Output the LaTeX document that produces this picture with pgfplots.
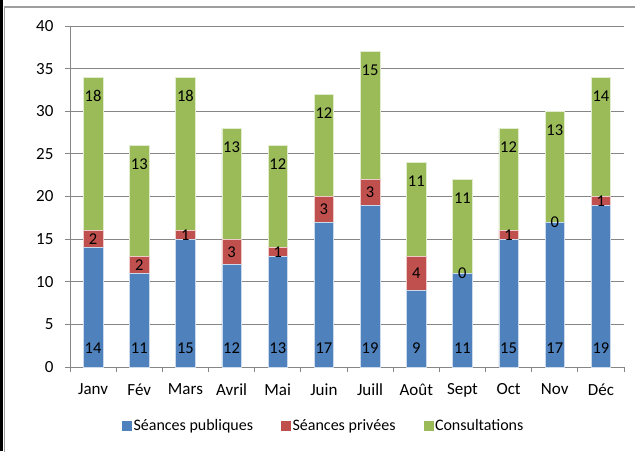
\documentclass[border=0pt]{standalone}
\usepackage{fontspec}
\setmainfont{Carlito}
\usepackage{pgfplots}
\pgfplotsset{compat=1.18}
\definecolor{cblue}{HTML}{4F81BD}
\definecolor{cred}{HTML}{C0504D}
\definecolor{cgreen}{HTML}{9BBB59}
\definecolor{cgrid}{HTML}{868686}
\begin{document}
\begin{tikzpicture}
\useasboundingbox (0pt,0pt) rectangle (635pt,451pt);
\fill[white] (0pt,0pt) rectangle (635pt,451pt);
\fill[black] (0pt,0pt) rectangle (3pt,451pt);
\draw[cgrid!80, line width=1.2pt] (4.6pt,-5pt) -- (4.6pt,444pt) -- (640pt,444pt);
\begin{axis}[at={(70pt,84pt)}, anchor=south west, scale only axis,
  width=554pt, height=341pt,
  ybar stacked, bar width=19.5pt,
  xmin=-0.5, xmax=11.5, ymin=0, ymax=40,
  xtick={0,...,11},
  xticklabels={Janv,Fév,Mars,Avril,Mai,Juin,Juill,Août,Sept,Oct,Nov,Déc},
  minor xtick={-0.5,0.5,...,11.5},
  ytick={0,5,...,40},
  major x tick style={draw=none},
  tick align=outside,
  major tick length=5pt, minor tick length=5pt,
  tick style={cgrid, line width=0.8pt},
  ymajorgrids, grid style={cgrid, line width=0.8pt},
  axis lines*=left,
  axis line style={-, cgrid, line width=0.8pt},
  ticklabel style={font=\fontsize{17}{20}\selectfont, text=black},
  /pgf/number format/assume math mode=true,
  xticklabel style={yshift=-8pt},
  yticklabel style={xshift=-8pt},
  legend columns=3,
  legend style={draw=none, fill=none, at={(0.458,-0.173)}, anchor=center,
    font=\fontsize{16}{19}\selectfont, /tikz/every even column/.append style={column sep=26pt},
    nodes={inner sep=2pt}},
  legend cell align=left,
]
\addplot+[fill=cblue, draw=white!70!cblue, line width=0.5pt,
  legend image code/.code={\fill[cblue] (0pt,-4.5pt) rectangle (9pt,4.5pt);},
  nodes near coords, point meta=explicit,
  visualization depends on={rawy \as \rawy},
  every node near coord/.append style={anchor=center, text=black,
    font=\fontsize{16.5}{19}\selectfont, yshift={-\rawy*4.2625pt+19pt}}]
  coordinates {(0,14)[14] (1,11)[11] (2,15)[15] (3,12)[12] (4,13)[13] (5,17)[17]
    (6,19)[19] (7,9)[9] (8,11)[11] (9,15)[15] (10,17)[17] (11,19)[19]};
\addplot+[fill=cred, draw=white!70!cred, line width=0.5pt,
  legend image code/.code={\fill[cred] (0pt,-4.5pt) rectangle (9pt,4.5pt);},
  nodes near coords, point meta=explicit,
  every node near coord/.append style={anchor=center, text=black,
    font=\fontsize{16.5}{19}\selectfont}]
  coordinates {(0,2)[2] (1,2)[2] (2,1)[1] (3,3)[3] (4,1)[1] (5,3)[3]
    (6,3)[3] (7,4)[4] (8,0.001)[0] (9,1)[1] (10,0.001)[0] (11,1)[1]};
\addplot+[fill=cgreen, draw=white!70!cgreen, line width=0.5pt,
  legend image code/.code={\fill[cgreen] (0pt,-4.5pt) rectangle (9pt,4.5pt);},
  nodes near coords, point meta=explicit,
  visualization depends on={rawy \as \rawy},
  every node near coord/.append style={anchor=center, text=black,
    font=\fontsize{16.5}{19}\selectfont, yshift={\rawy*4.2625pt-19pt}}]
  coordinates {(0,18)[18] (1,13)[13] (2,18)[18] (3,13)[13] (4,12)[12] (5,12)[12]
    (6,15)[15] (7,11)[11] (8,11)[11] (9,12)[12] (10,13)[13] (11,14)[14]};
\legend{Séances publiques, Séances privées, Consultations}
\end{axis}
\end{tikzpicture}
\end{document}
